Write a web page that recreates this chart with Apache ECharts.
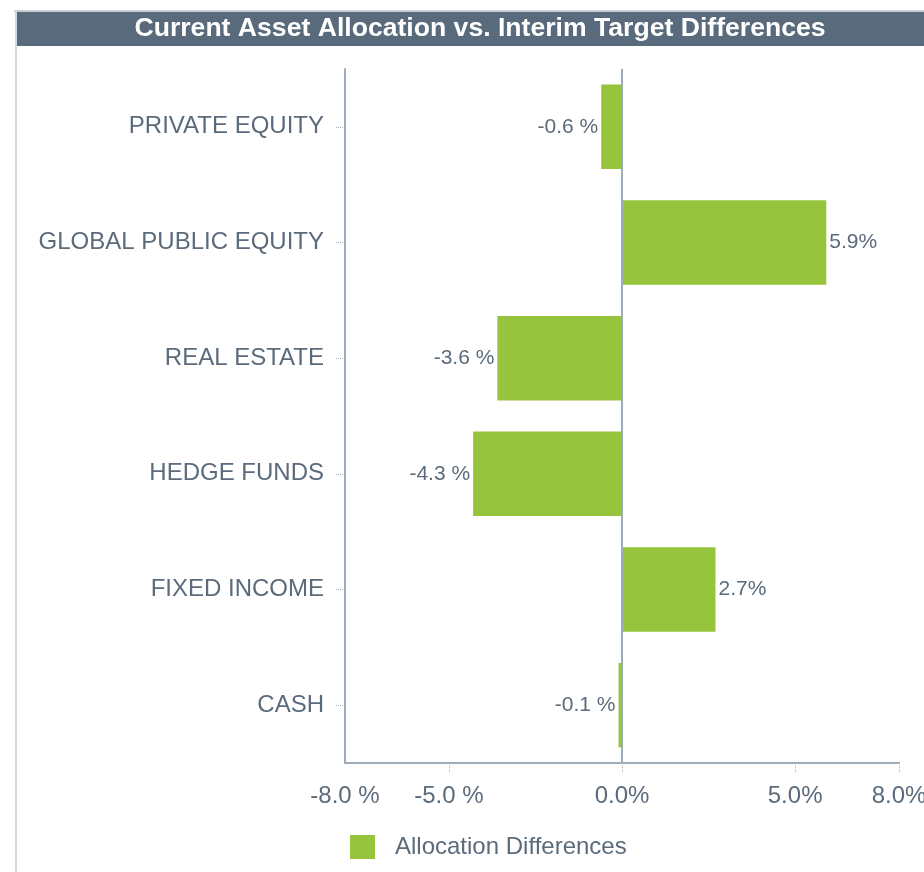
<!DOCTYPE html>
<html>
<head>
<meta charset="utf-8">
<script src="https://cdn.jsdelivr.net/npm/echarts@6/dist/echarts.min.js"></script>
<style>
  html, body { margin: 0; padding: 0; background: #ffffff; }
  #chart { width: 924px; height: 872px; }
</style>
</head>
<body>
<div id="chart"></div>
<script>
const titleText = 'Current Asset Allocation vs. Interim Target Differences';
const categories = ['PRIVATE EQUITY', 'GLOBAL PUBLIC EQUITY', 'REAL ESTATE', 'HEDGE FUNDS', 'FIXED INCOME', 'CASH'];
const differences = [-0.6, 5.9, -3.6, -4.3, 2.7, -0.1];
const seriesName = 'Allocation Differences';
const axisMin = -8;
const axisMax = 8;
const tickValues = [-8, -5, 0, 5, 8];
const tickMarkValues = [-5, 0, 5, 8];

const textColor = '#5b6b7b';
const axisColor = '#9eabb8';
const barColor = '#97c43d';
const tickColor = '#aab3bd';

function fmtPct(v) {
  return v < 0 ? v.toFixed(1) + ' %' : v.toFixed(1) + '%';
}

const chart = echarts.init(document.getElementById('chart'), null, { renderer: 'canvas' });

chart.setOption({
  backgroundColor: '#ffffff',
  animation: false,
  textStyle: { fontFamily: '"Liberation Sans", Arial, sans-serif' },
  graphic: [
    { type: 'rect', shape: { x: 14, y: 10, width: 910, height: 2 }, style: { fill: '#c9ced6' }, silent: true },
    { type: 'rect', shape: { x: 15, y: 10, width: 2, height: 862 }, style: { fill: '#d0d7e1' }, silent: true },
    { type: 'rect', shape: { x: 17, y: 12, width: 907, height: 34 }, style: { fill: '#586a7b' }, silent: true },
    {
      type: 'text', x: 480, y: 29, silent: true,
      style: {
        text: titleText, fill: '#ffffff', fontSize: 26.6, fontWeight: 'bold',
        fontFamily: '"Liberation Sans", Arial, sans-serif',
        align: 'center', verticalAlign: 'middle'
      }
    }
  ],
  legend: {
    data: [seriesName],
    left: 345, top: 830,
    icon: 'rect',
    itemWidth: 25, itemHeight: 24,
    textStyle: { color: textColor, fontSize: 24, padding: [2, 0, 0, 15] }
  },
  grid: { left: 345, right: 25, top: 69, bottom: 109, containLabel: false, outerBoundsMode: 'none' },
  xAxis: {
    type: 'value',
    min: axisMin, max: axisMax,
    axisLine: { show: true, onZero: false, lineStyle: { color: axisColor, width: 2 } },
    splitLine: { show: false },
    axisTick: {
      show: true, length: 9, customValues: tickMarkValues,
      lineStyle: { color: tickColor, type: 'dotted', width: 1 }
    },
    axisLabel: {
      customValues: tickValues, margin: 21,
      color: textColor, fontSize: 24,
      formatter: fmtPct
    }
  },
  yAxis: {
    type: 'category',
    data: categories,
    inverse: true,
    axisLine: { show: true, onZero: false, lineStyle: { color: axisColor, width: 2 } },
    axisTick: {
      show: true, alignWithLabel: true, length: 10,
      lineStyle: { color: tickColor, type: 'dotted', width: 1 }
    },
    axisLabel: { color: textColor, fontSize: 24, margin: 21, padding: [3, 0, 0, 0] },
    splitLine: { show: false }
  },
  series: [{
    name: seriesName,
    type: 'bar',
    data: differences,
    barCategoryGap: '27%',
    itemStyle: { color: barColor },
    label: {
      show: true, position: 'outside', distance: 3,
      color: textColor, fontSize: 21, padding: [3, 0, 0, 0],
      formatter: p => fmtPct(p.value)
    },
    markLine: {
      silent: true, symbol: ['none', 'none'],
      label: { show: false },
      lineStyle: { color: axisColor, width: 2, type: 'solid' },
      data: [{ xAxis: 0 }]
    }
  }]
});
</script>
</body>
</html>
